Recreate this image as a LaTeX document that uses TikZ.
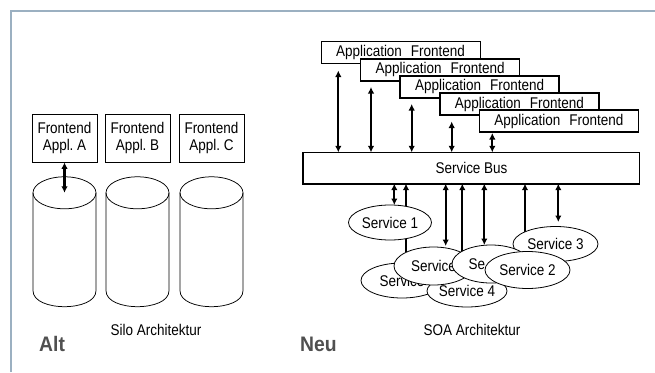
\documentclass[tikz,border=0pt]{standalone}
\usepackage{fontspec}
\setmainfont{Liberation Sans}
\newfontfamily\nar{Liberation Sans}[FakeStretch=0.87]
\newfontfamily\lab{Liberation Sans}[FakeStretch=0.92]
\usetikzlibrary{arrows.meta,shapes.geometric,calc}
\definecolor{framecol}{RGB}{155,176,193}
\definecolor{labgray}{RGB}{80,80,80}
\begin{document}
\begin{tikzpicture}[x=1pt,y=-1pt,
  txt/.style={font=\nar\fontsize{15.5}{17}\selectfont},
  silobox/.style={txt, draw, line width=0.7pt, minimum width=65pt, minimum height=48pt, inner sep=0pt, align=center},
  appbox/.style={txt, draw, fill=white, line width=1.7pt, minimum width=159pt, minimum height=22pt, inner sep=0pt},
  cyl/.style={line width=0.75pt},
  svc/.style={txt, ellipse, draw, fill=white, line width=0.8pt, inner sep=0pt},
  dbl/.style={{Latex[length=6.5pt,width=6.5pt]}-{Latex[length=6.5pt,width=6.5pt]}, line width=2.3pt},
  one/.style={-{Latex[length=6.5pt,width=6.5pt]}, line width=2.3pt},
  biglab/.style={font=\lab\bfseries\fontsize{21}{24}\selectfont, text=labgray, anchor=base west, inner sep=0pt}
]
\useasboundingbox (0,0) rectangle (655,372);
% frame
\draw[framecol, line width=2pt] (10.5,372) -- (10.5,11) -- (655,11);

% ---- Silo side ----
\foreach \cx/\n/\t in {64.5/a/A,137.5/b/B,211.5/c/C}{
  \node[silobox] (f\n) at (\cx,138) {Frontend\\Appl.\ \t};
  \draw[cyl] (\cx-31.5,192.8) -- (\cx-31.5,290.7) .. controls (\cx-31.5,312) and (\cx+31.5,312) .. (\cx+31.5,290.7) -- (\cx+31.5,192.8);
  \draw[cyl] (\cx,192.8) ellipse [x radius=31.5, y radius=16];
  \coordinate (cyl\n) at (\cx,192.8);
}
\draw[dbl] (fa.south) -- (cyla);

% ---- SOA side ----
\node[appbox, line width=0.9pt] (app1) at (400.5,52.5) {Application\hspace{9pt}Frontend};
\node[appbox] (app2) at (440.1,69.7) {Application\hspace{9pt}Frontend};
\node[appbox] (app3) at (479.7,86.9) {Application\hspace{9pt}Frontend};
\node[appbox] (app4) at (519.3,104.1) {Application\hspace{9pt}Frontend};
\node[appbox] (app5) at (558.9,121.3) {Application\hspace{9pt}Frontend};

\node[txt, draw, line width=0.8pt, minimum width=336pt, minimum height=30.5pt, inner sep=0pt] (bus) at (471.5,168) {Service Bus};
\draw[line width=1.8pt] (bus.north west) -- (bus.south west) -- (bus.south east);

% arrows bus -> frontends
\coordinate (u1) at (338.3,70.5);
\coordinate (u2) at (371,87);
\coordinate (u3) at (411.7,104);
\coordinate (u4) at (451.7,121.5);
\coordinate (u5) at (492.3,133);
\foreach \i in {1,...,5}{\draw[dbl] (bus.north -| u\i) -- (u\i);}

% arrows bus -> services
\coordinate (d1) at (394.3,205);
\coordinate (d2) at (406,252);
\coordinate (d3) at (445.7,246);
\coordinate (d4) at (462.3,252);
\coordinate (d5) at (484.3,245);
\coordinate (d6) at (525,250.5);
\coordinate (d7) at (558.3,222);
\draw[dbl] (bus.south -| d1) -- (d1);
\draw[one] (d2) -- (bus.south -| d2);
\draw[dbl] (bus.south -| d3) -- (d3);
\draw[one] (d4) -- (bus.south -| d4);
\draw[dbl] (bus.south -| d5) -- (d5);
\draw[dbl] (bus.south -| d6) -- (d6);
\draw[dbl] (bus.south -| d7) -- (d7);

% services
\node[svc, minimum width=83pt, minimum height=35pt] (s1) at (390,222.5) {Service 1};
\node[svc, minimum width=85pt, minimum height=35pt] (s3) at (555.5,244) {Service 3};
\node[svc, minimum width=82pt, minimum height=35pt] (sa) at (402,280.5) {Service};
\node[svc, minimum width=80pt, minimum height=32pt] (s4) at (467,291) {Service 4};
\node[svc, minimum width=79pt, minimum height=38pt] (sb) at (433.5,266) {Service};
\node[svc, minimum width=78pt, minimum height=38pt] (sc) at (491,264) {Se\phantom{rvice}};
\node[svc, minimum width=85pt, minimum height=37pt] (s2) at (527.5,270) {Service 2};

% labels
\node[txt, anchor=base] (silo) at (156,335) {Silo Architektur};
\node[txt, anchor=base] (soa) at (472,335) {SOA Architektur};
\node[biglab] (alt) at (39,351.5) {Alt};
\node[biglab] (neu) at (300,351.5) {Neu};
\end{tikzpicture}
\end{document}
